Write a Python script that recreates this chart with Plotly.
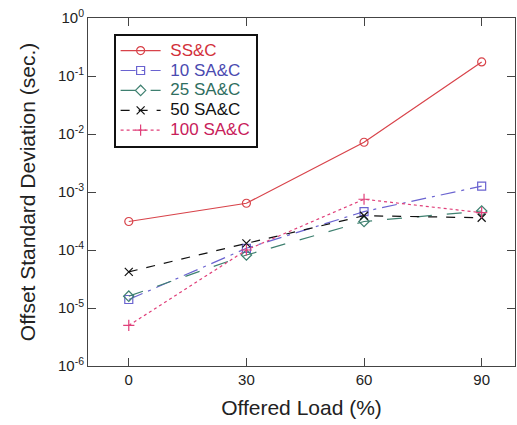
import plotly.graph_objects as go

loads = [0, 30, 60, 90]
ssc = [3.1e-4, 6.4e-4, 7.2e-3, 0.175]
sa10 = [1.4e-5, 1.07e-4, 4.6e-4, 1.26e-3]
sa25 = [1.6e-5, 8.2e-5, 3.1e-4, 4.7e-4]
sa50 = [4.2e-5, 1.3e-4, 3.9e-4, 3.6e-4]
sa100 = [5.0e-6, 1.0e-4, 7.5e-4, 4.4e-4]

series = [
    ("SS&C", ssc, "#d8434a", "#d2303a", "solid", "circle-open"),
    ("10 SA&C", sa10, "#6a63d0", "#4a4ab0", "longdashdot", "square-open"),
    ("25 SA&C", sa25, "#3f8070", "#2f6e60", "longdash", "diamond-open"),
    ("50 SA&C", sa50, "#111111", "#111111", "dash", "x-thin-open"),
    ("100 SA&C", sa100, "#e0407a", "#c8205a", "dot", "cross-thin-open"),
]

ytick_vals = [1e-6, 1e-5, 1e-4, 1e-3, 1e-2, 1e-1, 1]
ytick_text = ["10<sup>-6</sup>", "10<sup>-5</sup>", "10<sup>-4</sup>", "10<sup>-3</sup>",
              "10<sup>-2</sup>", "10<sup>-1</sup>", "10<sup>0</sup>"]

fig = go.Figure()
for name, vals, color, tcolor, dash, sym in series:
    label = name.replace("&", "&amp;")
    fig.add_trace(go.Scatter(
        x=loads, y=vals, mode="lines+markers",
        name=f'<span style="font-size:17px;color:{tcolor}"> {label}</span>',
        line=dict(color=color, width=1.2, dash=dash),
        marker=dict(symbol=sym, size=8, color=color, line=dict(color=color, width=1.2)),
    ))

fig.update_layout(
    width=517, height=425,
    margin=dict(l=88, r=2, t=18, b=59),
    paper_bgcolor="white", plot_bgcolor="white",
    font=dict(family="Liberation Sans, Arial, sans-serif", size=15, color="#222"),
    showlegend=True,
    legend=dict(
        x=0.06, y=0.955, xanchor="left", yanchor="top",
        bgcolor="white", bordercolor="#111", borderwidth=2,
        font=dict(size=13), tracegroupgap=0,
        itemwidth=40,
    ),
    xaxis=dict(
        range=[-10.4, 98.5], tickvals=loads, ticktext=[str(v) for v in loads],
        ticks="inside", ticklen=8, tickcolor="#444", showline=True, linecolor="#444",
        linewidth=1, mirror="ticks", showgrid=False, zeroline=False,
        title=dict(text="Offered Load (%)", font=dict(size=21), standoff=13),
        tickfont=dict(size=15),
    ),
    yaxis=dict(
        type="log", range=[-6, 0], tickvals=ytick_vals, ticktext=ytick_text,
        ticks="inside", ticklen=8, tickcolor="#444", showline=True, linecolor="#444",
        linewidth=1, mirror="ticks", showgrid=False, zeroline=False,
        title=dict(text="Offset Standard Deviation (sec.)", font=dict(size=21), standoff=16),
        tickfont=dict(size=15),
    ),
)

fig.write_html("out.html")
